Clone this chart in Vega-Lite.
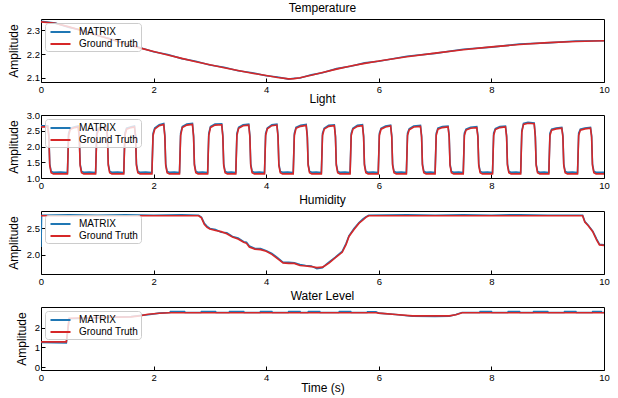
{
  "$schema": "https://vega.github.io/schema/vega-lite/v6.json",
  "background": "white",
  "padding": {"left": 6, "top": 1, "right": 8, "bottom": 2},
  "bounds": "flush",
  "spacing": 33,
  "datasets": {
    "temp": [
      {"t":0,"g":2.335,"m":2.337},{"t":0.25,"g":2.329,"m":2.330},{"t":0.5,"g":2.314,"m":2.312},{"t":0.75,"g":2.297,"m":2.299},
      {"t":1.0,"g":2.279,"m":2.278},{"t":1.25,"g":2.261,"m":2.263},{"t":1.5,"g":2.243,"m":2.242},{"t":1.75,"g":2.226,"m":2.228},
      {"t":2.0,"g":2.211,"m":2.210},{"t":2.25,"g":2.196,"m":2.198},{"t":2.5,"g":2.182,"m":2.181},{"t":2.75,"g":2.168,"m":2.170},
      {"t":3.0,"g":2.155,"m":2.154},{"t":3.25,"g":2.143,"m":2.145},{"t":3.5,"g":2.131,"m":2.130},{"t":3.75,"g":2.120,"m":2.122},
      {"t":4.0,"g":2.110,"m":2.109},{"t":4.2,"g":2.102,"m":2.104},{"t":4.4,"g":2.096,"m":2.095},{"t":4.5,"g":2.097,"m":2.099},
      {"t":4.6,"g":2.101,"m":2.100},{"t":4.8,"g":2.111,"m":2.113},{"t":5.0,"g":2.123,"m":2.122},{"t":5.25,"g":2.137,"m":2.139},
      {"t":5.5,"g":2.150,"m":2.149},{"t":5.75,"g":2.161,"m":2.163},{"t":6.0,"g":2.171,"m":2.170},{"t":6.5,"g":2.189,"m":2.191},
      {"t":7.0,"g":2.204,"m":2.203},{"t":7.5,"g":2.218,"m":2.220},{"t":8.0,"g":2.230,"m":2.229},{"t":8.5,"g":2.240,"m":2.242},
      {"t":9.0,"g":2.248,"m":2.247},{"t":9.5,"g":2.253,"m":2.255},{"t":10,"g":2.256,"m":2.256}
    ],
    "light": [
      {"t":0,"g":2.62,"m":2.66},{"t":0.12,"g":2.63,"m":2.66},{"t":0.14,"g":2.3,"m":2.35},{"t":0.155,"g":1.4,"m":1.45},{"t":0.18,"g":1.17,"m":1.21},{"t":0.22,"g":1.13,"m":1.18},{"t":0.35,"g":1.13,"m":1.19},
      {"t":0.47,"g":1.13,"m":1.17},{"t":0.49,"g":2.35,"m":2.42},{"t":0.52,"g":2.55,"m":2.58},{"t":0.60,"g":2.60,"m":2.63},{"t":0.66,"g":2.62,"m":2.65},{"t":0.68,"g":2.3,"m":2.35},{"t":0.695,"g":1.4,"m":1.45},{"t":0.72,"g":1.17,"m":1.21},{"t":0.76,"g":1.13,"m":1.18},{"t":0.86,"g":1.13,"m":1.19},
      {"t":0.97,"g":1.13,"m":1.17},{"t":0.99,"g":2.35,"m":2.42},{"t":1.02,"g":2.55,"m":2.58},{"t":1.10,"g":2.60,"m":2.63},{"t":1.16,"g":2.62,"m":2.65},{"t":1.18,"g":2.3,"m":2.35},{"t":1.195,"g":1.4,"m":1.45},{"t":1.22,"g":1.17,"m":1.21},{"t":1.26,"g":1.13,"m":1.18},{"t":1.36,"g":1.13,"m":1.19},
      {"t":1.47,"g":1.13,"m":1.17},{"t":1.49,"g":2.35,"m":2.42},{"t":1.52,"g":2.55,"m":2.58},{"t":1.60,"g":2.60,"m":2.63},{"t":1.66,"g":2.62,"m":2.65},{"t":1.68,"g":2.3,"m":2.35},{"t":1.695,"g":1.4,"m":1.45},{"t":1.72,"g":1.17,"m":1.21},{"t":1.76,"g":1.13,"m":1.18},{"t":1.86,"g":1.13,"m":1.19},
      {"t":1.97,"g":1.13,"m":1.17},{"t":1.99,"g":2.35,"m":2.42},{"t":2.02,"g":2.55,"m":2.59},{"t":2.10,"g":2.66,"m":2.69},{"t":2.18,"g":2.70,"m":2.73},{"t":2.20,"g":2.3,"m":2.35},{"t":2.215,"g":1.4,"m":1.45},{"t":2.24,"g":1.17,"m":1.21},{"t":2.28,"g":1.13,"m":1.18},{"t":2.37,"g":1.13,"m":1.19},
      {"t":2.46,"g":1.13,"m":1.17},{"t":2.48,"g":2.35,"m":2.42},{"t":2.51,"g":2.60,"m":2.63},{"t":2.59,"g":2.68,"m":2.71},{"t":2.69,"g":2.70,"m":2.73},{"t":2.71,"g":2.3,"m":2.35},{"t":2.725,"g":1.4,"m":1.45},{"t":2.75,"g":1.17,"m":1.21},{"t":2.79,"g":1.13,"m":1.18},{"t":2.87,"g":1.13,"m":1.19},
      {"t":2.96,"g":1.13,"m":1.17},{"t":2.98,"g":2.35,"m":2.42},{"t":3.01,"g":2.60,"m":2.63},{"t":3.09,"g":2.68,"m":2.71},{"t":3.21,"g":2.69,"m":2.72},{"t":3.23,"g":2.3,"m":2.35},{"t":3.245,"g":1.4,"m":1.45},{"t":3.27,"g":1.17,"m":1.21},{"t":3.31,"g":1.13,"m":1.18},{"t":3.38,"g":1.13,"m":1.19},
      {"t":3.46,"g":1.13,"m":1.17},{"t":3.48,"g":2.35,"m":2.42},{"t":3.51,"g":2.58,"m":2.61},{"t":3.59,"g":2.66,"m":2.69},{"t":3.69,"g":2.68,"m":2.71},{"t":3.71,"g":2.3,"m":2.35},{"t":3.725,"g":1.4,"m":1.45},{"t":3.75,"g":1.17,"m":1.21},{"t":3.79,"g":1.13,"m":1.18},{"t":3.88,"g":1.13,"m":1.19},
      {"t":3.97,"g":1.13,"m":1.17},{"t":3.99,"g":2.35,"m":2.42},{"t":4.02,"g":2.56,"m":2.59},{"t":4.10,"g":2.66,"m":2.69},{"t":4.19,"g":2.68,"m":2.71},{"t":4.21,"g":2.3,"m":2.35},{"t":4.225,"g":1.4,"m":1.45},{"t":4.25,"g":1.17,"m":1.21},{"t":4.29,"g":1.13,"m":1.18},{"t":4.38,"g":1.13,"m":1.19},
      {"t":4.48,"g":1.13,"m":1.17},{"t":4.50,"g":2.35,"m":2.42},{"t":4.53,"g":2.58,"m":2.61},{"t":4.61,"g":2.64,"m":2.67},{"t":4.71,"g":2.67,"m":2.70},{"t":4.73,"g":2.3,"m":2.35},{"t":4.745,"g":1.4,"m":1.45},{"t":4.77,"g":1.17,"m":1.21},{"t":4.81,"g":1.13,"m":1.18},{"t":4.89,"g":1.13,"m":1.19},
      {"t":4.98,"g":1.13,"m":1.17},{"t":5.00,"g":2.35,"m":2.42},{"t":5.03,"g":2.55,"m":2.58},{"t":5.11,"g":2.64,"m":2.67},{"t":5.21,"g":2.66,"m":2.69},{"t":5.23,"g":2.3,"m":2.35},{"t":5.245,"g":1.4,"m":1.45},{"t":5.27,"g":1.17,"m":1.21},{"t":5.31,"g":1.13,"m":1.18},{"t":5.40,"g":1.13,"m":1.19},
      {"t":5.49,"g":1.13,"m":1.17},{"t":5.51,"g":2.35,"m":2.42},{"t":5.54,"g":2.55,"m":2.58},{"t":5.62,"g":2.64,"m":2.67},{"t":5.71,"g":2.66,"m":2.69},{"t":5.73,"g":2.3,"m":2.35},{"t":5.745,"g":1.4,"m":1.45},{"t":5.77,"g":1.17,"m":1.21},{"t":5.81,"g":1.13,"m":1.18},{"t":5.90,"g":1.13,"m":1.19},
      {"t":5.99,"g":1.13,"m":1.17},{"t":6.01,"g":2.35,"m":2.42},{"t":6.04,"g":2.55,"m":2.58},{"t":6.12,"g":2.62,"m":2.65},{"t":6.21,"g":2.65,"m":2.68},{"t":6.23,"g":2.3,"m":2.35},{"t":6.245,"g":1.4,"m":1.45},{"t":6.27,"g":1.17,"m":1.21},{"t":6.31,"g":1.13,"m":1.18},{"t":6.40,"g":1.13,"m":1.19},
      {"t":6.49,"g":1.13,"m":1.17},{"t":6.51,"g":2.35,"m":2.42},{"t":6.54,"g":2.53,"m":2.56},{"t":6.62,"g":2.62,"m":2.65},{"t":6.74,"g":2.64,"m":2.67},{"t":6.76,"g":2.3,"m":2.35},{"t":6.775,"g":1.4,"m":1.45},{"t":6.80,"g":1.17,"m":1.21},{"t":6.84,"g":1.13,"m":1.18},{"t":6.92,"g":1.13,"m":1.19},
      {"t":7.00,"g":1.13,"m":1.17},{"t":7.02,"g":2.35,"m":2.42},{"t":7.05,"g":2.55,"m":2.58},{"t":7.13,"g":2.60,"m":2.63},{"t":7.23,"g":2.62,"m":2.65},{"t":7.25,"g":2.3,"m":2.35},{"t":7.265,"g":1.4,"m":1.45},{"t":7.29,"g":1.17,"m":1.21},{"t":7.33,"g":1.13,"m":1.18},{"t":7.42,"g":1.13,"m":1.19},
      {"t":7.50,"g":1.13,"m":1.17},{"t":7.52,"g":2.35,"m":2.42},{"t":7.55,"g":2.52,"m":2.55},{"t":7.63,"g":2.58,"m":2.61},{"t":7.74,"g":2.60,"m":2.63},{"t":7.76,"g":2.3,"m":2.35},{"t":7.775,"g":1.4,"m":1.45},{"t":7.80,"g":1.17,"m":1.21},{"t":7.84,"g":1.13,"m":1.18},{"t":7.93,"g":1.13,"m":1.19},
      {"t":8.02,"g":1.13,"m":1.17},{"t":8.04,"g":2.35,"m":2.42},{"t":8.07,"g":2.54,"m":2.57},{"t":8.15,"g":2.60,"m":2.63},{"t":8.25,"g":2.62,"m":2.65},{"t":8.27,"g":2.3,"m":2.35},{"t":8.285,"g":1.4,"m":1.45},{"t":8.31,"g":1.17,"m":1.21},{"t":8.35,"g":1.13,"m":1.18},{"t":8.44,"g":1.13,"m":1.19},
      {"t":8.52,"g":1.13,"m":1.17},{"t":8.54,"g":2.45,"m":2.50},{"t":8.57,"g":2.70,"m":2.73},{"t":8.65,"g":2.74,"m":2.77},{"t":8.76,"g":2.72,"m":2.75},{"t":8.78,"g":2.3,"m":2.35},{"t":8.795,"g":1.4,"m":1.45},{"t":8.82,"g":1.17,"m":1.21},{"t":8.86,"g":1.13,"m":1.18},{"t":8.94,"g":1.13,"m":1.19},
      {"t":9.02,"g":1.13,"m":1.17},{"t":9.04,"g":2.35,"m":2.42},{"t":9.07,"g":2.52,"m":2.55},{"t":9.15,"g":2.56,"m":2.59},{"t":9.25,"g":2.58,"m":2.61},{"t":9.27,"g":2.3,"m":2.35},{"t":9.285,"g":1.4,"m":1.45},{"t":9.31,"g":1.17,"m":1.21},{"t":9.35,"g":1.13,"m":1.18},{"t":9.44,"g":1.13,"m":1.19},
      {"t":9.53,"g":1.13,"m":1.17},{"t":9.55,"g":2.35,"m":2.42},{"t":9.58,"g":2.52,"m":2.55},{"t":9.66,"g":2.56,"m":2.59},{"t":9.76,"g":2.58,"m":2.61},{"t":9.78,"g":2.3,"m":2.35},{"t":9.795,"g":1.4,"m":1.45},{"t":9.82,"g":1.17,"m":1.21},{"t":9.86,"g":1.13,"m":1.18},{"t":10.0,"g":1.13,"m":1.18}
    ],
    "hum": [
      {"t":0,"g":2.74,"m":2.15},{"t":0.01,"g":2.74,"m":2.75},{"t":0.5,"g":2.74,"m":2.76},{"t":1.0,"g":2.74,"m":2.75},{"t":1.5,"g":2.74,"m":2.76},
      {"t":2.0,"g":2.74,"m":2.75},{"t":2.5,"g":2.74,"m":2.76},{"t":2.8,"g":2.74,"m":2.75},{"t":2.85,"g":2.70,"m":2.71},{"t":2.9,"g":2.58,"m":2.60},
      {"t":2.95,"g":2.52,"m":2.54},{"t":3.0,"g":2.49,"m":2.50},{"t":3.1,"g":2.46,"m":2.48},{"t":3.2,"g":2.44,"m":2.43},{"t":3.3,"g":2.40,"m":2.42},
      {"t":3.4,"g":2.34,"m":2.35},{"t":3.5,"g":2.30,"m":2.32},{"t":3.6,"g":2.24,"m":2.25},{"t":3.65,"g":2.22,"m":2.24},{"t":3.7,"g":2.15,"m":2.17},
      {"t":3.8,"g":2.11,"m":2.12},{"t":3.9,"g":2.10,"m":2.12},{"t":4.0,"g":2.07,"m":2.08},{"t":4.1,"g":2.01,"m":2.03},{"t":4.2,"g":1.93,"m":1.95},
      {"t":4.3,"g":1.85,"m":1.86},{"t":4.4,"g":1.84,"m":1.86},{"t":4.5,"g":1.84,"m":1.85},{"t":4.6,"g":1.80,"m":1.82},{"t":4.7,"g":1.79,"m":1.80},
      {"t":4.8,"g":1.78,"m":1.79},{"t":4.9,"g":1.76,"m":1.74},{"t":5.0,"g":1.77,"m":1.76},{"t":5.05,"g":1.80,"m":1.81},{"t":5.12,"g":1.85,"m":1.87},
      {"t":5.23,"g":1.95,"m":1.96},{"t":5.35,"g":2.05,"m":2.07},{"t":5.42,"g":2.20,"m":2.22},{"t":5.47,"g":2.35,"m":2.36},{"t":5.56,"g":2.48,"m":2.50},
      {"t":5.65,"g":2.60,"m":2.61},{"t":5.72,"g":2.66,"m":2.68},{"t":5.77,"g":2.71,"m":2.72},{"t":5.82,"g":2.74,"m":2.75},{"t":6.5,"g":2.74,"m":2.76},
      {"t":7.0,"g":2.74,"m":2.75},{"t":7.5,"g":2.74,"m":2.76},{"t":8.0,"g":2.74,"m":2.75},{"t":8.5,"g":2.74,"m":2.76},{"t":9.0,"g":2.74,"m":2.75},
      {"t":9.62,"g":2.74,"m":2.75},{"t":9.66,"g":2.62,"m":2.63},{"t":9.72,"g":2.55,"m":2.56},{"t":9.8,"g":2.44,"m":2.45},{"t":9.87,"g":2.28,"m":2.30},
      {"t":9.92,"g":2.19,"m":2.20},{"t":10,"g":2.18,"m":2.19}
    ],
    "water": [
      {"t":0,"g":1.28,"m":1.25},{"t":0.45,"g":1.28,"m":1.22},{"t":0.5,"g":2.48,"m":2.45},{"t":1.0,"g":2.52,"m":2.50},{"t":1.6,"g":2.55,"m":2.56},
      {"t":1.75,"g":2.60,"m":2.62},{"t":1.9,"g":2.68,"m":2.66},{"t":2.1,"g":2.73,"m":2.74},{"t":2.29,"g":2.76,"m":2.77},{"t":2.3,"g":2.76,"m":2.82},
      {"t":2.55,"g":2.76,"m":2.82},{"t":2.56,"g":2.76,"m":2.77},{"t":2.84,"g":2.76,"m":2.77},{"t":2.85,"g":2.76,"m":2.82},{"t":3.1,"g":2.76,"m":2.82},
      {"t":3.11,"g":2.76,"m":2.77},{"t":3.34,"g":2.76,"m":2.77},{"t":3.35,"g":2.76,"m":2.82},{"t":3.6,"g":2.76,"m":2.82},{"t":3.61,"g":2.76,"m":2.77},
      {"t":3.89,"g":2.76,"m":2.77},{"t":3.9,"g":2.76,"m":2.82},{"t":4.1,"g":2.76,"m":2.82},{"t":4.11,"g":2.76,"m":2.77},{"t":4.39,"g":2.76,"m":2.77},
      {"t":4.4,"g":2.76,"m":2.82},{"t":4.6,"g":2.76,"m":2.82},{"t":4.61,"g":2.76,"m":2.77},{"t":4.74,"g":2.76,"m":2.77},{"t":4.75,"g":2.76,"m":2.82},
      {"t":4.95,"g":2.76,"m":2.82},{"t":4.96,"g":2.76,"m":2.77},{"t":5.29,"g":2.76,"m":2.77},{"t":5.3,"g":2.76,"m":2.82},{"t":5.5,"g":2.76,"m":2.82},
      {"t":5.51,"g":2.76,"m":2.77},{"t":5.79,"g":2.76,"m":2.77},{"t":5.8,"g":2.76,"m":2.81},{"t":5.95,"g":2.76,"m":2.81},{"t":6.0,"g":2.74,"m":2.74},
      {"t":6.3,"g":2.67,"m":2.67},{"t":6.6,"g":2.60,"m":2.58},{"t":7.0,"g":2.60,"m":2.57},{"t":7.25,"g":2.60,"m":2.58},{"t":7.37,"g":2.66,"m":2.67},
      {"t":7.48,"g":2.76,"m":2.77},{"t":7.79,"g":2.76,"m":2.77},{"t":7.8,"g":2.76,"m":2.82},{"t":8.0,"g":2.76,"m":2.82},{"t":8.01,"g":2.76,"m":2.77},
      {"t":8.29,"g":2.76,"m":2.77},{"t":8.3,"g":2.76,"m":2.82},{"t":8.5,"g":2.76,"m":2.82},{"t":8.51,"g":2.76,"m":2.77},{"t":8.74,"g":2.76,"m":2.77},
      {"t":8.75,"g":2.76,"m":2.82},{"t":9.0,"g":2.76,"m":2.82},{"t":9.01,"g":2.76,"m":2.77},{"t":9.29,"g":2.76,"m":2.77},{"t":9.3,"g":2.76,"m":2.82},
      {"t":9.5,"g":2.76,"m":2.82},{"t":9.51,"g":2.76,"m":2.77},{"t":9.79,"g":2.76,"m":2.77},{"t":9.8,"g":2.76,"m":2.82},{"t":9.95,"g":2.76,"m":2.82},
      {"t":9.96,"g":2.76,"m":2.77},{"t":10,"g":2.76,"m":2.77}
    ]
  },
  "vconcat": [
    {
      "title": "Temperature",
      "width": 563, "height": 63,
      "data": {"name": "temp"},
      "encoding": {"x": {"field": "t", "type": "quantitative", "scale": {"domain": [0, 10], "nice": false}, "axis": {"values": [0,2,4,6,8,10], "format": "d", "title": null, "labelOverlap": false}}},
      "layer": [
        {"mark": {"type": "line", "strokeWidth": 1.6, "clip": true}, "encoding": {"y": {"field": "m", "type": "quantitative", "scale": {"domain": [2.083, 2.347], "nice": false, "zero": false}, "axis": {"title": "Amplitude", "values": [2.1, 2.2, 2.3], "format": ".1f", "labelOverlap": false}}, "color": {"datum": "MATRIX", "type": "nominal", "scale": {"domain": ["MATRIX", "Ground Truth"], "range": ["#1f77b4", "#d62728"]}}}},
        {"mark": {"type": "line", "strokeWidth": 1.6, "clip": true}, "encoding": {"y": {"field": "g", "type": "quantitative", "axis": {"title": "Amplitude", "values": [2.1, 2.2, 2.3], "format": ".1f", "labelOverlap": false}}, "color": {"datum": "Ground Truth", "type": "nominal"}}}
      ]
    },
    {
      "title": "Light",
      "width": 563, "height": 63,
      "data": {"name": "light"},
      "encoding": {"x": {"field": "t", "type": "quantitative", "scale": {"domain": [0, 10], "nice": false}, "axis": {"values": [0,2,4,6,8,10], "format": "d", "title": null, "labelOverlap": false}}},
      "layer": [
        {"mark": {"type": "line", "strokeWidth": 1.6, "clip": true}, "encoding": {"y": {"field": "m", "type": "quantitative", "scale": {"domain": [1.0, 3.0], "nice": false, "zero": false}, "axis": {"title": "Amplitude", "values": [1.0, 1.5, 2.0, 2.5, 3.0], "format": ".1f", "labelOverlap": false}}, "color": {"datum": "MATRIX", "type": "nominal", "scale": {"domain": ["MATRIX", "Ground Truth"], "range": ["#1f77b4", "#d62728"]}}}},
        {"mark": {"type": "line", "strokeWidth": 1.6, "clip": true}, "encoding": {"y": {"field": "g", "type": "quantitative", "axis": {"title": "Amplitude", "values": [1.0, 1.5, 2.0, 2.5, 3.0], "format": ".1f", "labelOverlap": false}}, "color": {"datum": "Ground Truth", "type": "nominal"}}}
      ]
    },
    {
      "title": "Humidity",
      "width": 563, "height": 63,
      "data": {"name": "hum"},
      "encoding": {"x": {"field": "t", "type": "quantitative", "scale": {"domain": [0, 10], "nice": false}, "axis": {"values": [0,2,4,6,8,10], "format": "d", "title": null, "labelOverlap": false}}},
      "layer": [
        {"mark": {"type": "line", "strokeWidth": 1.6, "clip": true}, "encoding": {"y": {"field": "m", "type": "quantitative", "scale": {"domain": [1.64, 2.83], "nice": false, "zero": false}, "axis": {"title": "Amplitude", "values": [2.0, 2.5], "format": ".1f", "labelOverlap": false}}, "color": {"datum": "MATRIX", "type": "nominal", "scale": {"domain": ["MATRIX", "Ground Truth"], "range": ["#1f77b4", "#d62728"]}}}},
        {"mark": {"type": "line", "strokeWidth": 1.6, "clip": true}, "encoding": {"y": {"field": "g", "type": "quantitative", "axis": {"title": "Amplitude", "values": [2.0, 2.5], "format": ".1f", "labelOverlap": false}}, "color": {"datum": "Ground Truth", "type": "nominal"}}}
      ]
    },
    {
      "title": "Water Level",
      "width": 563, "height": 63,
      "data": {"name": "water"},
      "encoding": {"x": {"field": "t", "type": "quantitative", "scale": {"domain": [0, 10], "nice": false}, "axis": {"values": [0,2,4,6,8,10], "format": "d", "title": "Time (s)", "titlePadding": 0, "labelOverlap": false}}},
      "layer": [
        {"mark": {"type": "line", "strokeWidth": 1.6, "clip": true}, "encoding": {"y": {"field": "m", "type": "quantitative", "scale": {"domain": [-0.15, 3.05], "nice": false, "zero": false}, "axis": {"title": "Amplitude", "values": [0, 1, 2], "format": "d", "labelOverlap": false}}, "color": {"datum": "MATRIX", "type": "nominal", "scale": {"domain": ["MATRIX", "Ground Truth"], "range": ["#1f77b4", "#d62728"]}}}},
        {"mark": {"type": "line", "strokeWidth": 1.6, "clip": true}, "encoding": {"y": {"field": "g", "type": "quantitative", "axis": {"title": "Amplitude", "values": [0, 1, 2], "format": "d", "labelOverlap": false}}, "color": {"datum": "Ground Truth", "type": "nominal"}}}
      ]
    }
  ],
  "resolve": {"scale": {"color": "independent", "x": "independent", "y": "independent"}, "legend": {"color": "independent"}},
  "config": {
    "font": "Liberation Sans",
    "view": {"stroke": "black", "strokeWidth": 1},
    "axis": {
      "domain": false, "grid": false, "ticks": true, "tickColor": "black", "tickSize": -4, "tickWidth": 1,
      "labelFont": "Liberation Sans", "labelFontSize": 9.5, "labelColor": "black", "labelFlush": false, "labelOverlap": false,
      "titleFont": "Liberation Sans", "titleFontSize": 12, "titleFontWeight": "normal", "titleColor": "black", "titlePadding": 6
    },
    "axisX": {"labelPadding": 6.5},
    "axisY": {"labelPadding": 5.5},
    "title": {"font": "Liberation Sans", "fontSize": 12, "fontWeight": "normal", "color": "black", "offset": 4, "anchor": "middle"},
    "legend": {
      "orient": "top-left", "offset": 4, "title": null,
      "labelFont": "Liberation Sans", "labelFontSize": 10, "labelColor": "black", "labelOffset": 11.5,
      "fillColor": "rgba(255,255,255,0.8)", "strokeColor": "#cccccc", "cornerRadius": 3, "padding": 2,
      "symbolType": "M-1.667,0H1.667", "symbolSize": 144, "symbolStrokeWidth": 2, "symbolOffset": 6.5, "rowPadding": 0
    }
  }
}
